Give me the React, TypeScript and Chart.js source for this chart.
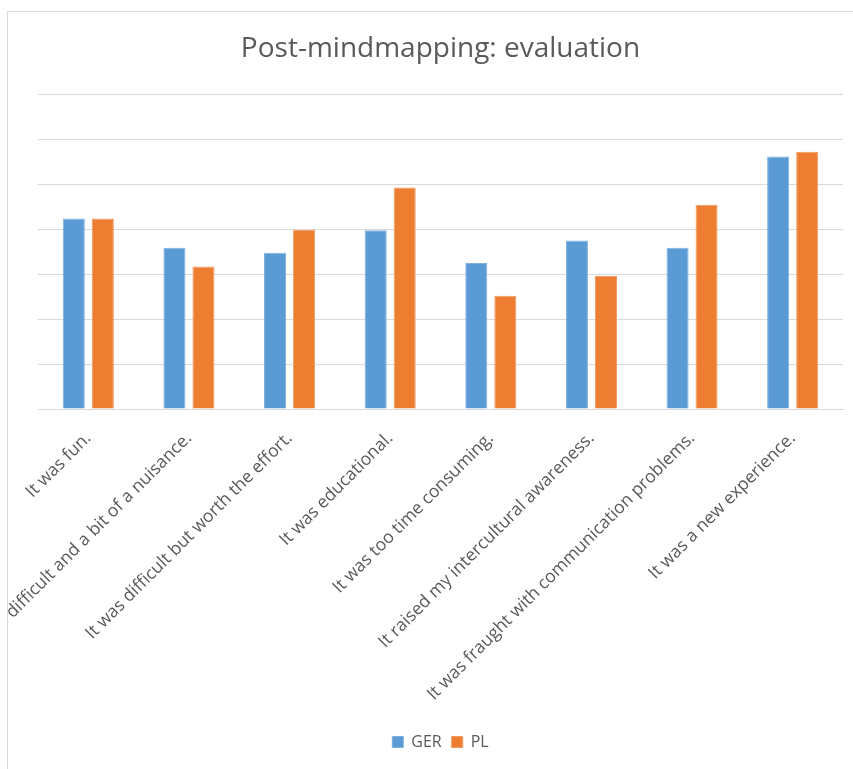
import React, { useEffect, useRef } from "react";
import { Chart, registerables } from "chart.js";

Chart.register(...registerables);

const categories = [
  "It was fun.",
  "It was difficult and a bit of a nuisance.",
  "It was difficult but worth the effort.",
  "It was educational.",
  "It was too time consuming.",
  "It raised my intercultural awareness.",
  "It was fraught with communication problems.",
  "It was a new experience.",
];

const gerValues = [4.24, 3.59, 3.48, 3.98, 3.25, 3.75, 3.59, 5.62];
const plValues = [4.24, 3.17, 3.99, 4.93, 2.52, 2.96, 4.55, 5.73];

const seriesNames = ["GER", "PL"];
const titleText = "Post-mindmapping: evaluation";

const FONT = "'Open Sans', 'DejaVu Sans', sans-serif";
const TEXT_COLOR = "#595959";
const GRID_COLOR = "#d9d9d9";

export default function App() {
  const canvasRef = useRef<HTMLCanvasElement | null>(null);

  useEffect(() => {
    if (!canvasRef.current) return;
    const chart = new Chart(canvasRef.current, {
      type: "bar",
      data: {
        labels: categories,
        datasets: [
          {
            label: seriesNames[0],
            data: gerValues,
            backgroundColor: "#5B9BD5",
            borderColor: "#7fb0de",
            borderWidth: 1,
            categoryPercentage: 0.577,
            barPercentage: 0.76,
          },
          {
            label: seriesNames[1],
            data: plValues,
            backgroundColor: "#ED7D31",
            borderColor: "#f29a60",
            borderWidth: 1,
            categoryPercentage: 0.577,
            barPercentage: 0.76,
          },
        ],
      },
      options: {
        responsive: false,
        animation: false,
        maintainAspectRatio: false,
        layout: { padding: { left: 30, right: 10, top: 0, bottom: 9 } },
        plugins: {
          title: {
            display: true,
            text: titleText,
            color: TEXT_COLOR,
            font: { family: FONT, size: 28, weight: "normal" },
            padding: { top: 20, bottom: 29 },
          },
          legend: {
            position: "bottom",
            labels: {
              color: TEXT_COLOR,
              font: { family: FONT, size: 16 },
              boxWidth: 11,
              boxHeight: 11,
              padding: 10,
            },
          },
          tooltip: { enabled: false },
        },
        scales: {
          x: {
            grid: { display: false },
            border: { display: true, color: GRID_COLOR, width: 1 },
            ticks: {
              color: TEXT_COLOR,
              font: { family: FONT, size: 17.5 },
              maxRotation: 45,
              minRotation: 45,
              autoSkip: false,
              padding: 11,
            },
            afterFit: (scale: any) => {
              scale.height = 315;
            },
          },
          y: {
            min: 0,
            max: 7,
            ticks: { display: false, stepSize: 1 },
            grid: { color: GRID_COLOR, lineWidth: 1, drawTicks: false },
            border: { display: false },
            afterFit: (scale: any) => {
              scale.width = 0;
            },
          },
        },
      },
    });
    return () => chart.destroy();
  }, []);

  return (
    <div
      style={{
        position: "absolute",
        left: 7,
        top: 11,
        width: 845,
        height: 757,
        borderLeft: "1px solid #d9d9d9",
        borderTop: "1px solid #d9d9d9",
        background: "#fff",
        overflow: "hidden",
      }}
    >
      <canvas ref={canvasRef} width={845} height={757} style={{ display: "block" }} />
    </div>
  );
}
